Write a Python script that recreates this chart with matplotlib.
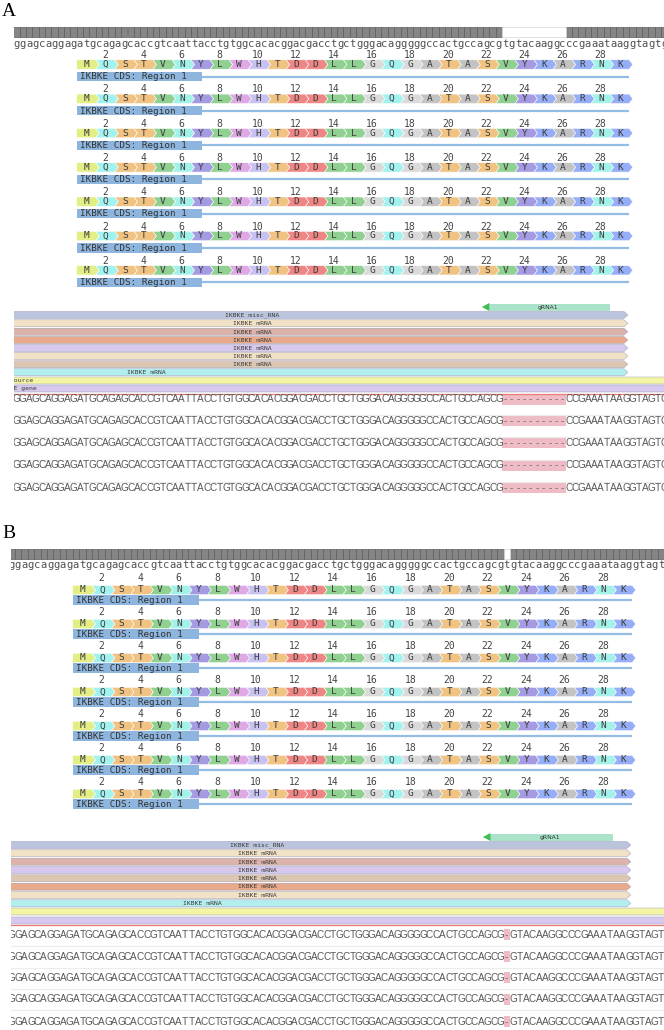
import matplotlib
matplotlib.use("Agg")
import matplotlib.pyplot as plt
from matplotlib.patches import Polygon, Rectangle

W, H = 664, 1030

# reference strand shown on top of both panels
ref_seq = "ggagcaggagatgcagagcaccgtcaattacctgtggcacacggacgacctgctgggacagggggccactgccagcgtgtacaaggcccgaaataaggtagtg"
protein = "MQSTVNYLWHTDDLLGQGATASVYKARNK"
cds_start = 10
aa_ticks = [2, 4, 6, 8, 10, 12, 14, 16, 18, 20, 22, 24, 26, 28]
n_cds_rows = 7
cds_label = "IKBKE CDS: Region 1"
grna_label = "gRNA1"
grna_bases = (73.8, 93.8)
track_end_base = 96.8

aa_colors = {
    "M": "#e3ee86", "Q": "#a2f2ef", "S": "#f0c383", "T": "#f0c383",
    "V": "#90d192", "N": "#a2f2e9", "Y": "#a49be2", "L": "#90d192",
    "W": "#dfa9e6", "H": "#c8c2f1", "D": "#ee8686", "G": "#dadada",
    "A": "#c3c3c3", "K": "#95aef7", "R": "#95aef7",
}

# aligned reads
read_A = "GGAGCAGGAGATGCAGAGCACCGTCAATTACCTGTGGCACACGGACGACCTGCTGGGACAGGGGGCCACTGCCAGCG----------CCGAAATAAGGTAGTG"
read_B = "GGAGCAGGAGATGCAGAGCACCGTCAATTACCTGTGGCACACGGACGACCTGCTGGGACAGGGGGCCACTGCCAGCG-GTACAAGGCCCGAAATAAGGTAGTG"
reads_A = [read_A] * 5
reads_B = [read_B] * 5

# feature tracks
track_labels_A = ["IKBKE misc_RNA"] + ["IKBKE mRNA"] * 7 + ["source", "IKBKE gene"]
track_colors_A = ["#bac4dd", "#f2e2c5", "#dbb3aa", "#e8aa8b", "#d7c8ed",
                  "#f2e2c5", "#dcc7b3", "#b3eeee", "#f4f4a5", "#d6c8ee"]
track_labels_B = ["IKBKE misc_RNA"] + ["IKBKE mRNA"] * 7 + ["", ""]
track_colors_B = ["#bac4dd", "#f2e2c5", "#dbb3aa", "#d7c8ed", "#dcc7b3",
                  "#e8aa8b", "#f2e2c5", "#b3eeee", "#f4f4a5", "#d6c8ee"]

panel_A = dict(letter="A", x0=13.2, bw=6.35, clip=14, label_y=12, bar_y=32, seq_y=44,
               num_y=55, aa_y=64.5, cds_y=76.5, pitch=34.3, grna_y=307,
               trk_y=[315, 323.3, 331.7, 340, 348, 356, 364.3, 372.3, 380, 388.3],
               red_y=393.5, row_y=[399.5, 421, 443, 465.5, 488],
               sep_y=[415, 437, 460, 482], lab_x=252, cyan_lab_x=146,
               src_lab_x=[10, -2])
panel_B = dict(letter="B", x0=8.4, bw=6.43, clip=11, label_y=533, bar_y=554, seq_y=565,
               num_y=578, aa_y=590, cds_y=600, pitch=34, grna_y=837,
               trk_y=[845, 853.3, 861.7, 870, 878.3, 886.7, 895, 903.3, 911.7, 920],
               red_y=925, row_y=[935, 957, 978, 999.5, 1022],
               sep_y=[946, 967.5, 989, 1010], lab_x=257, cyan_lab_x=202,
               src_lab_x=[6, -6])

MONO = "DejaVu Sans Mono"


def draw_panel(fig, p, reads, t_labels, t_colors):
    ax = fig.add_axes([p["clip"] / W, 0, 1 - p["clip"] / W, 1])
    ax.set_xlim(p["clip"], W)
    ax.set_ylim(H, 0)
    ax.axis("off")
    x0, bw = p["x0"], p["bw"]
    bx = lambda i: x0 + i * bw

    ax.text(2, p["label_y"], p["letter"], fontfamily="Liberation Serif", fontsize=14,
            ha="left", va="center", color="black")

    gaps = sorted(i for i, c in enumerate(reads[0]) if c == "-")

    # coverage bar
    by = p["bar_y"]
    for i in range(len(ref_seq)):
        if i not in gaps:
            ax.add_patch(Rectangle((bx(i), by - 5), bw, 10, facecolor="#858585",
                                   edgecolor="#5c5c5c", lw=0.5))
    ax.add_patch(Rectangle((bx(gaps[0]), by - 5), bw * len(gaps), 10, facecolor="white",
                           edgecolor="#d4d4d4", lw=0.5))
    for i, c in enumerate(ref_seq):
        ax.text(bx(i) + bw / 2, p["seq_y"], c, ha="center", va="center", fontfamily=MONO,
                fontsize=7.6, color="#505050", clip_on=True)

    # translation rows
    for r in range(n_cds_rows):
        dy = r * p["pitch"]
        for n in aa_ticks:
            ax.text(bx(cds_start + 3 * (n - 1) + 1.5), p["num_y"] + dy, str(n), ha="center",
                    va="center", fontfamily=MONO, fontsize=7, color="#444444")
        yc = p["aa_y"] + dy
        h, d = 4.7, 3.6
        for i, aa in enumerate(protein):
            xl = bx(cds_start + 3 * i)
            xr = xl + 3 * bw
            notch = 0 if i == 0 else d
            pts = [(xl, yc - h), (xr, yc - h), (xr + d, yc), (xr, yc + h), (xl, yc + h),
                   (xl + notch, yc)]
            ax.add_patch(Polygon(pts, closed=True, facecolor=aa_colors[aa],
                                 edgecolor="white", lw=0.4))
            ax.text(xl + 1.5 * bw + 0.5, yc, aa, ha="center", va="center", fontfamily=MONO,
                    fontsize=6.8, color="#3c3c3c")
        cy = p["cds_y"] + dy
        left = bx(cds_start)
        box_w = 19.7 * bw
        ax.add_patch(Rectangle((left, cy - 4.6), box_w, 9.2, facecolor="#8db5dd",
                               edgecolor="none"))
        ax.text(left + 3, cy + 0.3, cds_label, ha="left", va="center", fontfamily=MONO,
                fontsize=6.7, color="#333333")
        ax.plot([left + box_w, bx(cds_start + 3 * len(protein))], [cy, cy],
                color="#94bde6", lw=1.6, solid_capstyle="butt")

    # gRNA arrow (reverse strand)
    gy = p["grna_y"]
    g0, g1 = bx(grna_bases[0]), bx(grna_bases[1])
    ax.add_patch(Rectangle((g0 + 7, gy - 3.3), g1 - g0 - 7, 6.6, facecolor="#a9e3c9",
                           edgecolor="#8fd4b3", lw=0.4))
    ax.add_patch(Polygon([(g0, gy), (g0 + 7.5, gy - 4), (g0 + 7.5, gy + 4)], closed=True,
                         facecolor="#3dbf55", edgecolor="none"))
    ax.text((g0 + g1) / 2 + 3, gy, grna_label, ha="center", va="center",
            fontfamily="DejaVu Sans", fontsize=4.3, color="#333333")

    # feature tracks
    tip = bx(track_end_base)
    for k, (lab, col) in enumerate(zip(t_labels, t_colors)):
        ty = p["trk_y"][k]
        hh = 3.5
        if k < 8:
            pts = [(p["clip"] - 5, ty - hh), (tip - 4, ty - hh), (tip, ty), (tip - 4, ty + hh),
                   (p["clip"] - 5, ty + hh)]
        else:
            pts = [(p["clip"] - 5, ty - hh), (W + 5, ty - hh), (W + 5, ty + hh),
                   (p["clip"] - 5, ty + hh)]
        ax.add_patch(Polygon(pts, closed=True, facecolor=col, edgecolor="#a0a0b8", lw=0.35))
        if not lab:
            continue
        if k < 7:
            lx, ha = p["lab_x"], "center"
        elif k == 7:
            lx, ha = p["cyan_lab_x"], "center"
        else:
            lx, ha = p["src_lab_x"][k - 8], "left"
        ax.text(lx, ty + 0.3, lab, ha=ha, va="center", fontfamily=MONO, fontsize=4.6,
                color="#3a3a3a", clip_on=True)

    ax.plot([p["clip"], W], [p["red_y"], p["red_y"]], color="#ea7a74", lw=0.9)

    # aligned reads
    for y in p["sep_y"]:
        ax.plot([p["clip"], W], [y, y], color="#ececec", lw=0.8)
    for y, read in zip(p["row_y"], reads):
        for i, c in enumerate(read):
            if c == "-":
                ax.add_patch(Rectangle((bx(i), y - 5.8), bw, 11, facecolor="#efbcc5",
                                       edgecolor="none"))
                col = "#6a6a6a"
            else:
                col = "#585858"
            ax.text(bx(i) + bw / 2, y, c, ha="center", va="center",
                    fontfamily="Liberation Sans", fontsize=7.2, color=col, clip_on=True)


fig = plt.figure(figsize=(W / 100, H / 100), dpi=100)
fig.patch.set_facecolor("white")
draw_panel(fig, panel_A, reads_A, track_labels_A, track_colors_A)
draw_panel(fig, panel_B, reads_B, track_labels_B, track_colors_B)
fig.savefig("out.png", dpi=100, facecolor="white")
